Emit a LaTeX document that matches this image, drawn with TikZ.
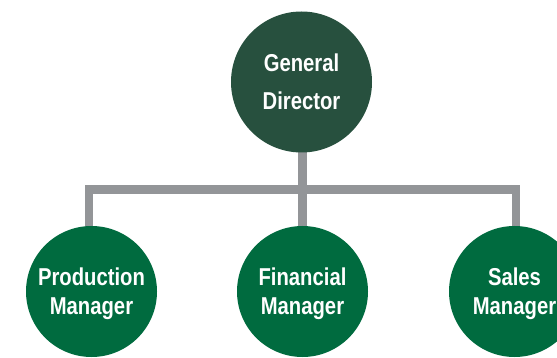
\documentclass[tikz,border=0pt]{standalone}
\usepackage{fontspec}
\newfontfamily\condb{Liberation Sans}[FakeStretch=0.83]
\usetikzlibrary{backgrounds}
\definecolor{topgreen}{RGB}{39,80,62}
\definecolor{mgrgreen}{RGB}{0,107,63}
\definecolor{bargray}{RGB}{147,149,152}
\tikzset{
  director/.style={circle, inner sep=0pt, minimum size=141pt, fill=topgreen, text=white, align=center,
    font=\condb\bfseries\fontsize{24.4}{38}\selectfont},
  manager/.style={circle, inner sep=0pt, minimum size=131pt, fill=mgrgreen, text=white, align=center,
    text depth=0pt, font=\condb\bfseries\fontsize{24.4}{29}\selectfont},
  barline/.style={draw=bargray, line width=8.5pt, line join=miter, line cap=butt}
}
\begin{document}
\begin{tikzpicture}[x=1pt,y=-1pt]
\clip (0,0) rectangle (557,358);
\node[director] (top) at (301.5,82) {General\\Director};
\node[manager] (L) at (91.5,291.5) {Production\\Manager};
\node[manager] (M) at (302.5,291.5) {Financial\\Manager};
\node[manager] (R) at (514.5,291.5) {Sales\\Manager};
\coordinate (bar) at (0,189.5);
\begin{scope}[on background layer]
\draw[barline] ([xshift=-2.5pt]L.center) -- ([xshift=-2.5pt]L.center |- bar)
  -- ([xshift=1.5pt]R.center |- bar) -- ([xshift=1.5pt]R.center);
\draw[barline] (M.center |- top.center) -- (M.center);
\end{scope}
\end{tikzpicture}
\end{document}
